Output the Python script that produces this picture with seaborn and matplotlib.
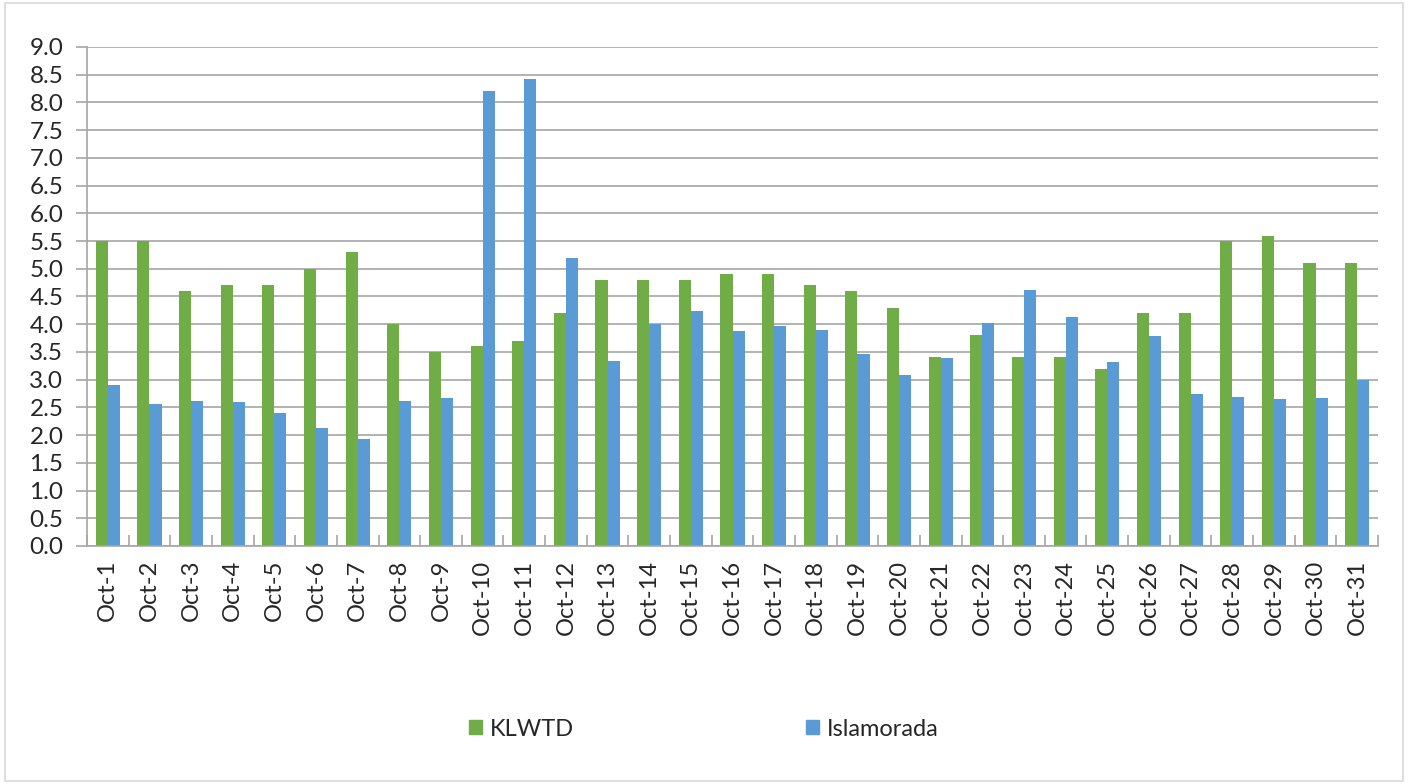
import matplotlib
matplotlib.use("Agg")
import matplotlib.pyplot as plt
import matplotlib.patches as mpatches
import seaborn as sns
import pandas as pd
import numpy as np

days = [f"Oct-{i}" for i in range(1, 32)]
klwtd = [5.5, 5.5, 4.6, 4.7, 4.7, 5.0, 5.3, 4.0, 3.5, 3.6, 3.7, 4.2, 4.8, 4.8, 4.8, 4.9,
         4.9, 4.7, 4.6, 4.3, 3.4, 3.8, 3.4, 3.4, 3.2, 4.2, 4.2, 5.5, 5.6, 5.1, 5.1]
islamorada = [2.90, 2.57, 2.62, 2.60, 2.40, 2.13, 1.93, 2.61, 2.67, 8.20, 8.43, 5.19, 3.33,
              4.00, 4.23, 3.87, 3.96, 3.90, 3.47, 3.09, 3.39, 4.02, 4.62, 4.13, 3.32, 3.78,
              2.75, 2.68, 2.65, 2.67, 3.00]
series_names = ["KLWTD", "Islamorada"]
colors = ["#70AD47", "#5B9BD5"]
yticks = [i * 0.5 for i in range(19)]

df = pd.DataFrame({
    "day": days * 2,
    "value": klwtd + islamorada,
    "series": [series_names[0]] * len(days) + [series_names[1]] * len(days),
})

sns.set_theme(style="white")
plt.rcParams["font.family"] = ["Lato", "DejaVu Sans"]

fig = plt.figure(figsize=(14.08, 7.84), dpi=100)
ax = fig.add_axes([87 / 1408, 1 - 546 / 784, (1378 - 87) / 1408, (546 - 47) / 784])

sns.barplot(data=df, x="day", y="value", hue="series", order=days,
            hue_order=series_names, palette=colors, width=0.58,
            saturation=1, ax=ax, legend=False, errorbar=None, linewidth=0)

ax.set_ylim(0, 9)
ax.set_xlim(-0.5, len(days) - 0.5)
ax.set_yticks(yticks)
ax.set_yticklabels([f"{t:.1f}" for t in yticks], fontsize=17.5, color="#262626")
ax.set_xticks(range(len(days)))
ax.set_xticklabels(days, rotation=90, fontsize=17, color="#262626")
ax.tick_params(axis="x", length=0, pad=10)
ax.tick_params(axis="y", length=8, width=1.2, color="#A6A6A6", pad=9, left=True)
ax.set_xlabel("")
ax.set_ylabel("")
ax.yaxis.grid(True, color="#A6A6A6", linewidth=1.2)
ax.set_axisbelow(True)
for side in ["top", "right"]:
    ax.spines[side].set_visible(False)
for side in ["left", "bottom"]:
    ax.spines[side].set_color("#A6A6A6")
    ax.spines[side].set_linewidth(1.2)

# category boundary ticks
ax.set_xticks(np.arange(-0.5, len(days), 1.0), minor=True)
ax.tick_params(axis="x", which="minor", direction="in", length=8, color="#A6A6A6",
               width=1.2, bottom=True)

handles = [mpatches.Patch(color=c, label=n) for c, n in zip(colors, series_names)]
fig.legend(handles=handles, loc="center", bbox_to_anchor=(0.5, 1 - 729 / 784), ncol=2,
           frameon=False, fontsize=17, handlelength=0.55, handleheight=0.55,
           handletextpad=0.35, columnspacing=9.8, labelcolor="#262626")

fig.patches.append(mpatches.Rectangle((5 / 1408, 3 / 784), 1398 / 1408, 778 / 784,
                                      transform=fig.transFigure, fill=False,
                                      edgecolor="#D9D9D9", linewidth=1.2))

fig.savefig("out.png", dpi=100)
